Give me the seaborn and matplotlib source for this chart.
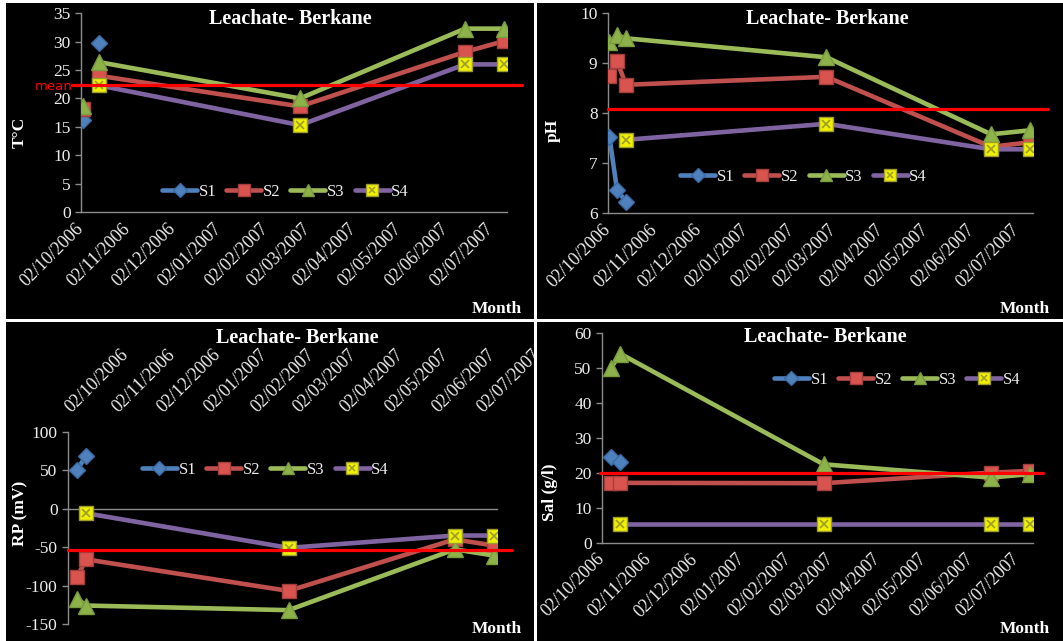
import numpy as np
import pandas as pd
import matplotlib
matplotlib.use("Agg")
import matplotlib.pyplot as plt
import matplotlib.dates as mdates
from matplotlib.lines import Line2D
from matplotlib.patches import Rectangle
from matplotlib.transforms import Bbox, TransformedBbox
import seaborn as sns

# ---------------- data ----------------
dates = ["2006-10-03", "2006-10-08", "2006-10-14", "2007-02-25", "2007-06-15", "2007-07-11"]
series_names = ["S1", "S2", "S3", "S4"]
tick_fmt = "%d/%m/%Y"
title_text = "Leachate- Berkane"
nan = np.nan

temp_s1 = [16.2, nan, 29.7, nan, nan, nan]
temp_s2 = [18.1, nan, 24.0, 18.6, 28.2, 30.1]
temp_s3 = [18.6, nan, 26.4, 20.0, 32.3, 32.3]
temp_s4 = [nan, nan, 22.3, 15.3, 26.0, 26.0]
temp_mean = 22.35

ph_s1 = [7.52, 6.47, 6.23, nan, nan, nan]
ph_s2 = [8.75, 9.05, 8.57, 8.73, 7.33, 7.42]
ph_s3 = [9.42, 9.56, 9.50, 9.12, 7.58, 7.66]
ph_s4 = [nan, nan, 7.47, 7.79, 7.28, 7.28]
ph_mean = 8.08

rp_s1 = [nan, 50, 69, nan, nan, nan]
rp_s2 = [nan, -89, -66, -107, -40, -48]
rp_s3 = [nan, -117, -126, -132, -53, -61]
rp_s4 = [nan, nan, -6, -51, -35, -35]
rp_mean = -54

sal_s1 = [nan, 24.5, 23.1, nan, nan, nan]
sal_s2 = [nan, 17.0, 17.1, 17.0, 20.0, 20.5]
sal_s3 = [nan, 50.0, 54.0, 22.4, 18.6, 19.6]
sal_s4 = [nan, nan, 5.3, 5.3, 5.3, 5.3]
sal_mean = 19.8

# ---------------- style ----------------
sns.set_theme(style="ticks")
plt.rcParams['font.family'] = ['Liberation Serif', 'DejaVu Serif']
plt.rcParams['axes.unicode_minus'] = False

W, H = 1063, 641
fig = plt.figure(figsize=(W / 100, H / 100), dpi=100, facecolor='white')

def fx(px):
    return px / W

def fy(py):
    return 1 - py / H

TXT = '#EDEDED'
AX = '#8C8C8C'
styles = {
    "S1": dict(color='#4F81BD', marker='D', ms=8.5, mfc='#4F81BD', mec='#3A6BA5'),
    "S2": dict(color='#C0504D', marker='s', ms=10, mfc='#D9534F', mec='#A33F3C'),
    "S3": dict(color='#9BBB59', marker='^', ms=11, mfc='#8DB24A', mec='#7A9A3E'),
    "S4": dict(color='#8064A2', marker='s', ms=10, mfc='#F0F000', mec='#9C9C30'),
}

# panel background rectangles (pixels x0, y0, x1, y1)
panel_px = {
    "T": (6, 3, 534, 319),
    "pH": (537, 3, 1063, 319),
    "RP": (6, 322, 534, 641),
    "Sal": (537, 322, 1063, 641),
}
for k, (x0, y0, x1, y1) in panel_px.items():
    fig.add_artist(Rectangle((fx(x0), fy(y1)), fx(x1) - fx(x0), fy(y0) - fy(y1),
                             transform=fig.transFigure, facecolor='black',
                             edgecolor='none', zorder=-5))

# axes rectangles (left, top, right, bottom) pixels
axes_px = {
    "T": (81, 13.3, 507, 212),
    "pH": (608, 13.3, 1033, 213.3),
    "RP": (68, 431.7, 497, 624),
    "Sal": (602, 332.7, 1033, 542.7),
}

panels = [
    dict(key="T", vals=[temp_s1, temp_s2, temp_s3, temp_s4], ylim=(0, 35), yticks=np.arange(0, 36, 5),
         mean=temp_mean, mspan=(72, 522), leg=(0.48, 0.10), ylabel="T°C", ylab_xy=(20, 132),
         title_xy=(290, 19), month_xy=(522, 309)),
    dict(key="pH", vals=[ph_s1, ph_s2, ph_s3, ph_s4], ylim=(6, 10), yticks=np.arange(6, 11, 1),
         mean=ph_mean, mspan=(608, 1048), leg=(0.46, 0.18), ylabel="pH", ylab_xy=(553, 130),
         title_xy=(827, 19), month_xy=(1050, 309)),
    dict(key="RP", vals=[rp_s1, rp_s2, rp_s3, rp_s4], ylim=(-150, 100), yticks=np.arange(-150, 101, 50),
         mean=rp_mean, mspan=(68, 512), leg=(0.46, 0.80), ylabel="RP (mV)", ylab_xy=(20, 513),
         title_xy=(297, 338), month_xy=(522, 629)),
    dict(key="Sal", vals=[sal_s1, sal_s2, sal_s3, sal_s4], ylim=(0, 60), yticks=np.arange(0, 61, 10),
         mean=sal_mean, mspan=(600, 1043), leg=(0.685, 0.775), ylabel="Sal (g/l)", ylab_xy=(550, 492),
         title_xy=(825, 337), month_xy=(1050, 629)),
]

date_ts = pd.to_datetime(dates)
xmin, xmax = pd.Timestamp("2006-10-02"), pd.Timestamp("2007-07-13")

for p in panels:
    l, t, r, b = axes_px[p["key"]]
    ax = fig.add_axes([fx(l), fy(b), fx(r) - fx(l), fy(t) - fy(b)])
    ax.set_facecolor('none')

    for name, vals in zip(series_names, p["vals"]):
        st = styles[name]
        df = pd.DataFrame({"date": date_ts, "v": vals})
        mask = df["v"].notna()
        run = (mask != mask.shift()).cumsum()
        for _, seg in df[mask].groupby(run[mask]):
            sns.lineplot(data=seg, x="date", y="v", ax=ax, color=st["color"], lw=3.3,
                         marker=st["marker"], markersize=st["ms"], markerfacecolor=st["mfc"],
                         markeredgecolor=st["mec"], markeredgewidth=1.0, errorbar=None,
                         legend=False, zorder=3)
            if name == "S4":
                ax.plot(seg["date"], seg["v"], ls='none', marker='x', ms=6, mew=1.2,
                        color='#9C9C30', zorder=4)

    ax.set_xlim(xmin, xmax)
    ax.set_ylim(*p["ylim"])
    ax.set_yticks(p["yticks"])
    ax.set_xlabel("")
    ax.set_ylabel("")
    ax.xaxis.set_major_locator(mdates.MonthLocator(bymonthday=2))
    ax.xaxis.set_major_formatter(mdates.DateFormatter(tick_fmt))

    for s in ["top", "right"]:
        ax.spines[s].set_visible(False)
    ax.spines["left"].set_color(AX)
    ax.spines["bottom"].set_color(AX)
    ax.spines["left"].set_linewidth(1.0)
    ax.spines["bottom"].set_linewidth(1.0)
    ax.tick_params(axis='y', colors=AX, labelcolor=TXT, labelsize=12.5, length=4, width=1, direction='out')

    if p["key"] == "RP":
        ax.spines["bottom"].set_position(('data', 0))
        ax.xaxis.tick_top()
        ax.tick_params(axis='x', which='both', top=False, bottom=False, labeltop=True,
                       labelbottom=False, labelcolor=TXT, labelsize=13, pad=10)
        for lab in ax.get_xticklabels():
            lab.set_rotation(45)
            lab.set_ha('left')
            lab.set_va('center')
            lab.set_rotation_mode('anchor')
    else:
        ax.tick_params(axis='x', which='both', length=0, labelcolor=TXT, labelsize=13, pad=10)
        for lab in ax.get_xticklabels():
            lab.set_rotation(45)
            lab.set_ha('right')
            lab.set_va('center')
            lab.set_rotation_mode('anchor')

    # mean line
    m0, m1 = p["mspan"]
    ax.axhline(p["mean"], xmin=(m0 - l) / (r - l), xmax=(m1 - l) / (r - l), color='#FF0000',
               lw=2.3, clip_on=False, zorder=6)

    # legend
    handles = []
    for name in series_names:
        st = styles[name]
        h = Line2D([], [], color=st["color"], lw=3.3, marker=st["marker"], markersize=st["ms"] * 0.85,
                   markerfacecolor=st["mfc"], markeredgecolor=st["mec"])
        if name == "S4":
            hx = Line2D([], [], ls='none', marker='x', ms=5, mew=1.1, color='#9C9C30')
            h = (h, hx)
        handles.append(h)
    ax.legend(handles, series_names, loc='center', bbox_to_anchor=p["leg"], ncol=4, frameon=False,
              fontsize=12, labelcolor=TXT, handlelength=2.1, handletextpad=0.1, columnspacing=0.6)

    # texts
    fig.text(fx(p["title_xy"][0]), fy(p["title_xy"][1]), title_text, ha='center', va='center',
             color='white', fontsize=14.5, fontweight='bold')
    fig.text(fx(p["ylab_xy"][0]), fy(p["ylab_xy"][1]), p["ylabel"], ha='center', va='center',
             rotation=90, color='white', fontsize=12.5, fontweight='bold')
    fig.text(fx(p["month_xy"][0]), fy(p["month_xy"][1]), "Month", ha='right', va='center',
             color='white', fontsize=12.5, fontweight='bold')
    p["ax"] = ax

fig.text(fx(72), fy(86), "mean", ha='right', va='center', color='#FF0000', fontsize=9.5,
         family=['DejaVu Sans'])

# clip tick labels to their panels
fig.canvas.draw()
for p in panels:
    x0, y0, x1, y1 = panel_px[p["key"]]
    bb = TransformedBbox(Bbox([[fx(x0), fy(y1)], [fx(x1), fy(y0)]]), fig.transFigure)
    for lab in p["ax"].get_xticklabels():
        lab.set_clip_box(bb)
        lab.set_clip_on(True)

fig.savefig("out.png", dpi=100, facecolor='white')
